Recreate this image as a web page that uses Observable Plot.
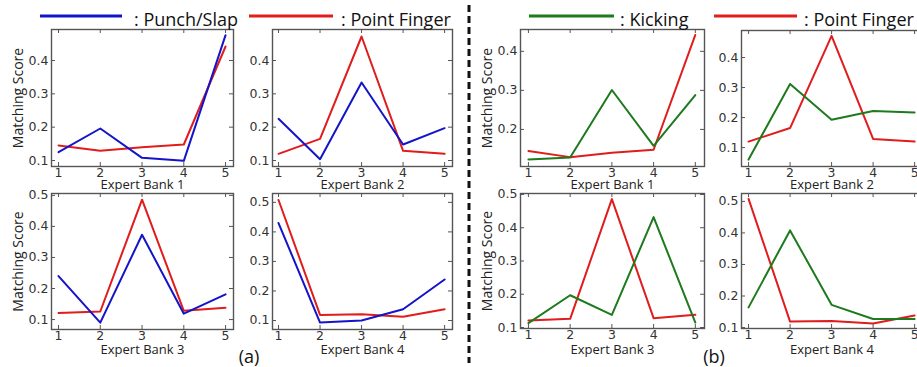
<!DOCTYPE html>
<html>
<head>
<meta charset="utf-8">
<script src="https://cdn.jsdelivr.net/npm/d3@7"></script>
<script src="https://cdn.jsdelivr.net/npm/@observablehq/plot@0.6"></script>
<style>
  html, body { margin: 0; padding: 0; background: #fff; overflow: hidden; }
  #wrap { position: relative; width: 917px; height: 367px; overflow: hidden; background: #fff; }
  #wrap > svg, #wrap > figure { position: absolute; left: 0; top: 0; margin: 0; }
</style>
</head>
<body>
<div id="wrap"></div>
<script>
// ---------- data ----------
const banks = [1, 2, 3, 4, 5];
const xTicks = [1, 2, 3, 4, 5];
const bankLabels = ["Expert Bank 1", "Expert Bank 2", "Expert Bank 3", "Expert Bank 4"];
const seriesNames = ["Punch/Slap", "Point Finger", "Kicking"];

const punchBank1 = [0.125, 0.196, 0.108, 0.099, 0.476];
const punchBank2 = [0.225, 0.104, 0.334, 0.148, 0.197];
const punchBank3 = [0.240, 0.090, 0.373, 0.119, 0.181];
const punchBank4 = [0.430, 0.093, 0.100, 0.138, 0.239];

const pointBank1 = [0.145, 0.129, 0.140, 0.148, 0.442];
const pointBank2 = [0.120, 0.165, 0.472, 0.129, 0.120];
const pointBank3 = [0.121, 0.126, 0.486, 0.128, 0.138];
const pointBank4 = [0.508, 0.119, 0.121, 0.113, 0.138];

const kickBank1 = [0.123, 0.128, 0.301, 0.158, 0.288];
const kickBank2 = [0.060, 0.312, 0.193, 0.222, 0.217];
const kickBank3 = [0.113, 0.197, 0.138, 0.432, 0.115];
const kickBank4 = [0.164, 0.408, 0.172, 0.127, 0.127];

const yTicks4 = [0.1, 0.2, 0.3, 0.4];
const yTicks5 = [0.1, 0.2, 0.3, 0.4, 0.5];
const yTicksB1 = [0.2, 0.3, 0.4];

// ---------- style ----------
const BLUE = "#1414c8", RED = "#e01c1c", GREEN = "#1d7a1d";
const FRAME = "#555";
const TXT = "#333";
const H = 367;

const panels = [
  {frame: [51, 29, 233, 166], xd: [0.832, 5.19], yd: [0.082, 0.493], yt: yTicks4, bank: 0, ylab: true, bdy: 18,
   series: [[pointBank1, RED], [punchBank1, BLUE]]},
  {frame: [272, 29, 452, 166], xd: [0.855, 5.19], yd: [0.082, 0.493], yt: yTicks4, bank: 1, ylab: false, bdy: 18,
   series: [[pointBank2, RED], [punchBank2, BLUE]]},
  {frame: [51, 193, 233, 329], xd: [0.832, 5.19], yd: [0.068, 0.506], yt: yTicks5, bank: 2, ylab: true, bdy: 20,
   series: [[pointBank3, RED], [punchBank3, BLUE]]},
  {frame: [272, 193, 452, 329], xd: [0.855, 5.19], yd: [0.0695, 0.53], yt: yTicks5, bank: 3, ylab: false, bdy: 20,
   series: [[pointBank4, RED], [punchBank4, BLUE]]},
  {frame: [520, 29, 704, 166], xd: [0.81, 5.22], yd: [0.105, 0.456], yt: yTicksB1, bank: 0, ylab: true, bdy: 18,
   series: [[pointBank1, RED], [kickBank1, GREEN]]},
  {frame: [741, 30, 922, 166], xd: [0.83, 5.19], yd: [0.037, 0.49], yt: yTicks4, bank: 1, ylab: false, bdy: 18,
   series: [[pointBank2, RED], [kickBank2, GREEN]]},
  {frame: [520, 193, 704, 328], xd: [0.81, 5.22], yd: [0.097, 0.503], yt: yTicks5, bank: 2, ylab: true, bdy: 21,
   series: [[pointBank3, RED], [kickBank3, GREEN]]},
  {frame: [741, 193, 922, 328], xd: [0.83, 5.19], yd: [0.097, 0.525], yt: yTicks5, bank: 3, ylab: false, bdy: 21,
   series: [[pointBank4, RED], [kickBank4, GREEN]]}
];

const wrap = document.getElementById("wrap");

for (const p of panels) {
  const [l, t, r, b] = p.frame;
  const W = Math.max(917, r + 20);
  const fw = r - l, fh = b - t;
  const marks = [
    Plot.frame({stroke: FRAME, strokeWidth: 1.4}),
    Plot.tickX(xTicks, {x: d => d, insetTop: fh - 4, stroke: FRAME, strokeWidth: 1}),
    Plot.tickX(xTicks, {x: d => d, insetBottom: fh - 4, stroke: FRAME, strokeWidth: 1}),
    Plot.tickY(p.yt, {y: d => d, insetRight: fw - 4, stroke: FRAME, strokeWidth: 1}),
    Plot.tickY(p.yt, {y: d => d, insetLeft: fw - 4, stroke: FRAME, strokeWidth: 1}),
    Plot.axisX({ticks: xTicks, tickSize: 0, tickPadding: 2, label: null, fontSize: 12.5, fill: TXT,
                fontFamily: "DejaVu Sans", tickFormat: d => String(d)}),
    Plot.axisY({ticks: p.yt, tickSize: 0, tickPadding: 3, label: null, fontSize: 12.5, fill: TXT,
                fontFamily: "DejaVu Sans", tickFormat: d => d.toFixed(1)}),
    Plot.text([bankLabels[p.bank]], {text: d => d, frameAnchor: "bottom", dy: p.bdy, lineAnchor: "middle",
               textAnchor: "middle", fontSize: 13, fontFamily: "Open Sans", fill: "#222"})
  ];
  if (p.ylab) {
    marks.push(Plot.text(["Matching Score"], {text: d => d, frameAnchor: "left", dx: -33, rotate: -90,
               textAnchor: "middle", lineAnchor: "middle",
               fontSize: 14, fontFamily: "Open Sans", fill: "#222"}));
  }
  for (const [vals, color] of p.series) {
    const rows = banks.map((k, i) => ({bank: k, score: vals[i]}));
    marks.push(Plot.line(rows, {x: "bank", y: "score", stroke: color, strokeWidth: 2}));
  }
  const chart = Plot.plot({
    width: W, height: H,
    marginLeft: l, marginTop: t, marginRight: W - r, marginBottom: H - b,
    x: {domain: p.xd},
    y: {domain: p.yd},
    style: {background: "transparent", overflow: "visible", maxWidth: "none", fontFamily: "DejaVu Sans"},
    marks
  });
  chart.style.position = "absolute";
  chart.style.left = "0px";
  chart.style.top = "0px";
  wrap.appendChild(chart);
}

// ---------- legends, divider, sub-captions ----------
const ns = "http://www.w3.org/2000/svg";
const deco = document.createElementNS(ns, "svg");
deco.setAttribute("width", 917);
deco.setAttribute("height", 367);
deco.style.position = "absolute";
deco.style.left = "0px";
deco.style.top = "0px";
function el(tag, attrs, text) {
  const e = document.createElementNS(ns, tag);
  for (const k in attrs) e.setAttribute(k, attrs[k]);
  if (text != null) e.textContent = text;
  deco.appendChild(e);
  return e;
}
const legendItems = [
  {x1: 40, x2: 122, tx: 134, color: BLUE, name: seriesNames[0]},
  {x1: 249, x2: 333, tx: 341, color: RED, name: seriesNames[1]},
  {x1: 529, x2: 614, tx: 620, color: GREEN, name: seriesNames[2]},
  {x1: 714, x2: 797, tx: 804, color: RED, name: seriesNames[1]}
];
for (const it of legendItems) {
  el("line", {x1: it.x1, x2: it.x2, y1: 16, y2: 16, stroke: it.color, "stroke-width": 3});
  el("text", {x: it.tx, y: 26, "font-family": "Open Sans", "font-size": 18, fill: "#111"}, ": " + it.name);
}
el("line", {x1: 469, x2: 469, y1: 5, y2: 363, stroke: "#111", "stroke-width": 3, "stroke-dasharray": "7,4"});
el("text", {x: 249, y: 363, "text-anchor": "middle", "font-family": "Open Sans", "font-size": 18, fill: "#111"}, "(a)");
el("text", {x: 714, y: 363, "text-anchor": "middle", "font-family": "Open Sans", "font-size": 18, fill: "#111"}, "(b)");
wrap.appendChild(deco);
</script>
</body>
</html>
